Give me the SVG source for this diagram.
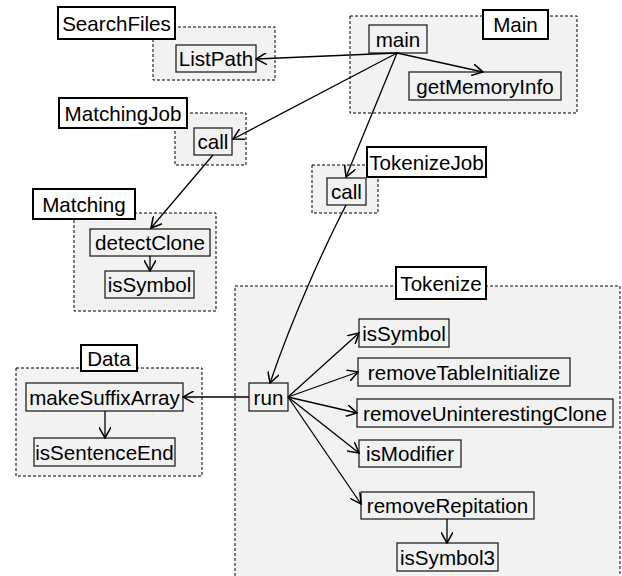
<svg xmlns="http://www.w3.org/2000/svg" width="622" height="576" viewBox="0 0 622 576">
<style>
.cl{fill:#f2f2f2;stroke:#000;stroke-width:1;stroke-dasharray:3,2}
.lb{fill:#fff;stroke:#000;stroke-width:2}
.nd{fill:#f2f2f2;stroke:#222;stroke-width:1.3}
text{font-family:"Liberation Sans",Arial,sans-serif;font-size:20.6px;fill:#000;text-anchor:middle}
.e{fill:none;stroke:#000;stroke-width:1.3;marker-end:url(#ah)}
</style>
<defs>
<marker id="ah" markerUnits="userSpaceOnUse" markerWidth="12" markerHeight="12" refX="9" refY="5" orient="auto" viewBox="0 0 10 10">
<path d="M0,0 L9,5 L0,10" fill="none" stroke="#000" stroke-width="1.3"/>
</marker>
</defs>
<g id="cluster-SearchFiles">
<rect class="cl" x="153" y="27" width="122" height="53"/>
<rect class="lb" x="58" y="7" width="117" height="32"/>
<text x="116.5" y="30.5">SearchFiles</text>
</g>
<g id="cluster-Main">
<rect class="cl" x="350" y="16" width="227" height="97"/>
<rect class="lb" x="483" y="10" width="65" height="29"/>
<text x="515.5" y="32">Main</text>
</g>
<g id="cluster-MatchingJob">
<rect class="cl" x="175" y="113" width="71" height="52"/>
<rect class="lb" x="59" y="98" width="128" height="30"/>
<text x="123" y="120.5">MatchingJob</text>
</g>
<g id="cluster-TokenizeJob">
<rect class="cl" x="312" y="165" width="66" height="48"/>
<rect class="lb" x="367" y="147" width="119" height="30"/>
<text x="426.5" y="169.5">TokenizeJob</text>
</g>
<g id="cluster-Matching">
<rect class="cl" x="74" y="213" width="142" height="98"/>
<rect class="lb" x="33" y="189" width="102" height="30"/>
<text x="84" y="211.5">Matching</text>
</g>
<g id="cluster-Tokenize">
<rect class="cl" x="235" y="286" width="385" height="300"/>
<rect class="lb" x="396" y="267" width="90" height="32"/>
<text x="441" y="290.5">Tokenize</text>
</g>
<g id="cluster-Data">
<rect class="cl" x="16" y="368" width="186" height="108"/>
<rect class="lb" x="81" y="345" width="56" height="26"/>
<text x="109" y="365.5">Data</text>
</g>
<g id="ListPath"><rect class="nd" x="176" y="45" width="80" height="27"/><text x="216" y="66">ListPath</text></g>
<g id="main"><rect class="nd" x="369" y="25" width="58" height="28"/><text x="398" y="46.5">main</text></g>
<g id="getMemoryInfo"><rect class="nd" x="409" y="72" width="152" height="28"/><text x="485" y="93.5">getMemoryInfo</text></g>
<g id="MatchingJob-call"><rect class="nd" x="194" y="128" width="38" height="27"/><text x="213" y="149">call</text></g>
<g id="TokenizeJob-call"><rect class="nd" x="327" y="178" width="39" height="27"/><text x="346.5" y="199">call</text></g>
<g id="detectClone"><rect class="nd" x="90" y="229" width="120" height="27"/><text x="150" y="250">detectClone</text></g>
<g id="Matching-isSymbol"><rect class="nd" x="105" y="271" width="89" height="27"/><text x="149.5" y="292">isSymbol</text></g>
<g id="run"><rect class="nd" x="249" y="383" width="39" height="28"/><text x="268.5" y="404.5">run</text></g>
<g id="makeSuffixArray"><rect class="nd" x="26" y="383" width="157" height="28"/><text x="104.5" y="404.5">makeSuffixArray</text></g>
<g id="isSentenceEnd"><rect class="nd" x="34" y="438" width="141" height="28"/><text x="104.5" y="459.5">isSentenceEnd</text></g>
<g id="Tokenize-isSymbol"><rect class="nd" x="359" y="319" width="90" height="28"/><text x="404" y="340.5">isSymbol</text></g>
<g id="removeTableInitialize"><rect class="nd" x="358" y="358" width="212" height="28"/><text x="464" y="379.5">removeTableInitialize</text></g>
<g id="removeUninterestingClone"><rect class="nd" x="357" y="399" width="256" height="28"/><text x="485" y="420.5">removeUninterestingClone</text></g>
<g id="isModifier"><rect class="nd" x="359" y="440" width="102" height="27"/><text x="410" y="461">isModifier</text></g>
<g id="removeRepitation"><rect class="nd" x="361" y="492" width="173" height="27"/><text x="447.5" y="513">removeRepitation</text></g>
<g id="isSymbol3"><rect class="nd" x="397" y="543" width="101" height="28"/><text x="447.5" y="564.5">isSymbol3</text></g>
<g id="edges">
<path class="e" d="M397,53 L256,59"/>
<path class="e" d="M397,53 L483,72"/>
<path class="e" d="M397,53 L233,139"/>
<path class="e" d="M397,53 L346,177"/>
<path class="e" d="M213,155 L151,228"/>
<path class="e" d="M150,256 L150,271"/>
<path class="e" d="M346,205 C328,240 295,310 270,383"/>
<path class="e" d="M249,397 L183,397"/>
<path class="e" d="M105,411 L105,438"/>
<path class="e" d="M288,397 L359,333"/>
<path class="e" d="M288,397 L358,372"/>
<path class="e" d="M288,397 L357,413"/>
<path class="e" d="M288,397 L359,453"/>
<path class="e" d="M288,397 L361,504"/>
<path class="e" d="M447,519 L447,543"/>
</g>
</svg>
